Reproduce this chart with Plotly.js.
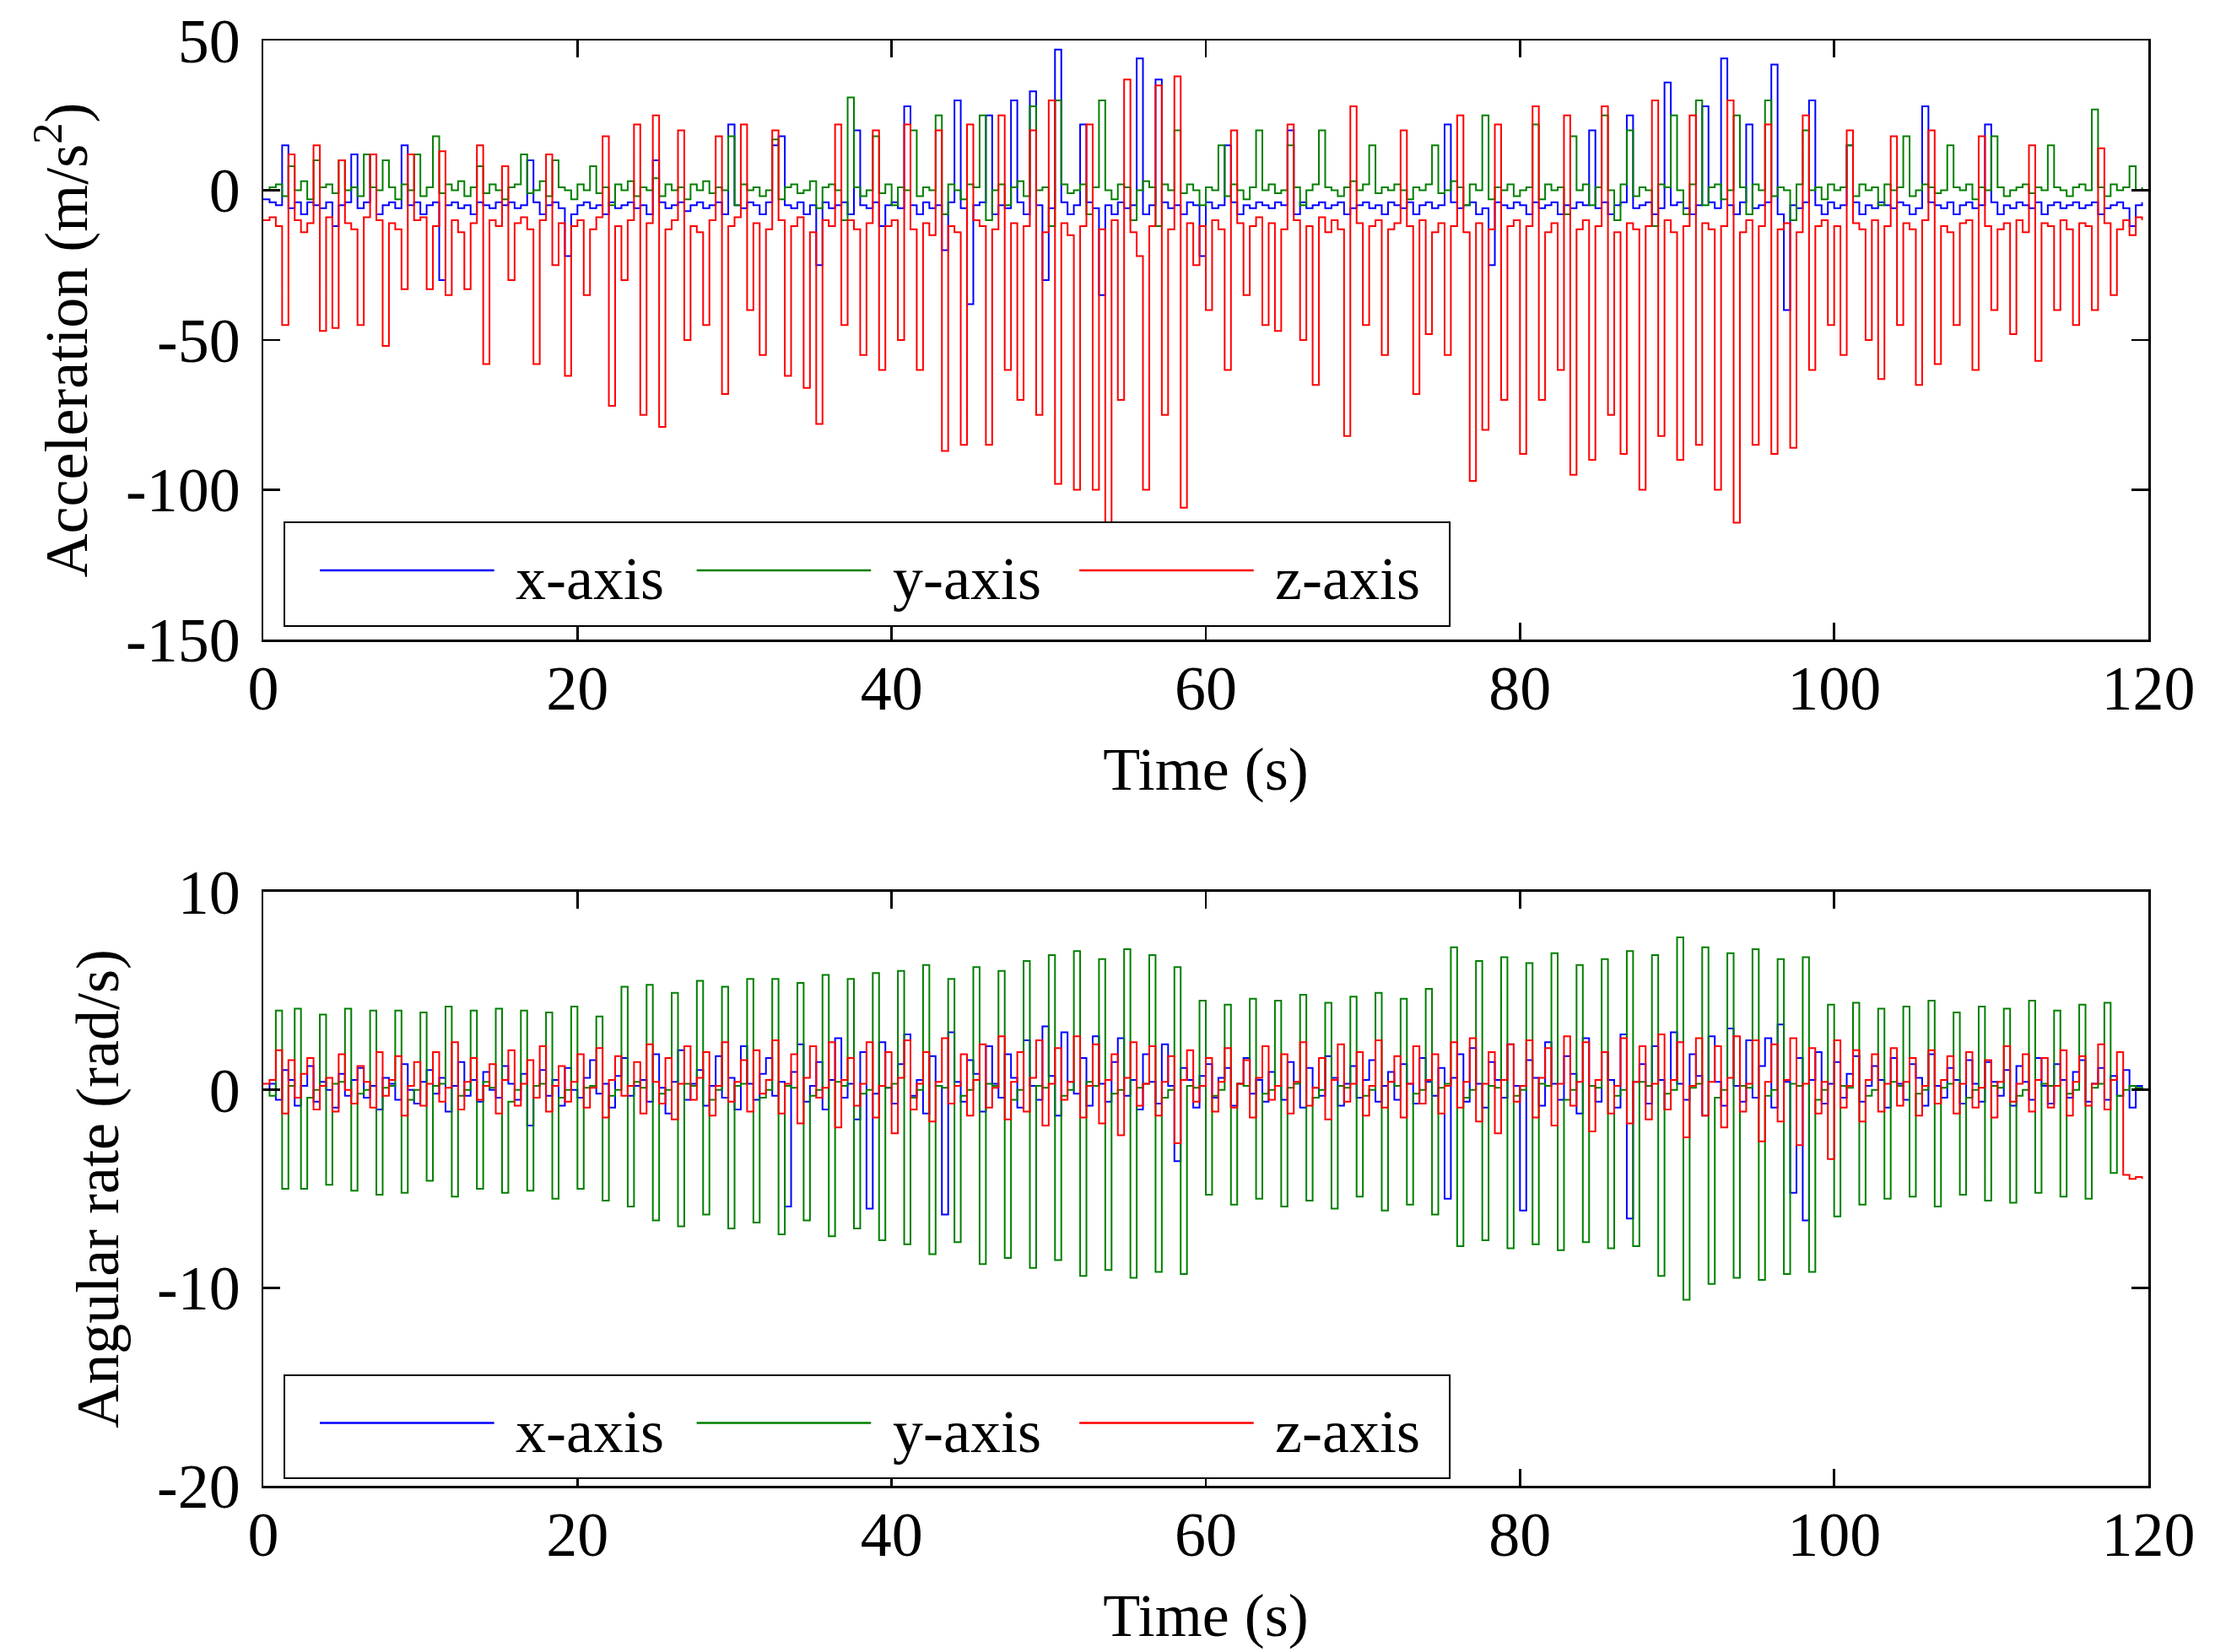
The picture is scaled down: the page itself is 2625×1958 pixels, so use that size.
<!DOCTYPE html>
<html>
<head>
<meta charset="utf-8">
<script src="https://cdn.plot.ly/plotly-3.0.1.min.js"></script>
<style>
  html, body { margin: 0; padding: 0; background: #fff; }
  #chartDiv { width: 2625px; height: 1958px; }
</style>
</head>
<body>
<div id="chartDiv"></div>
<script>
  // time base shared by all six signals (s)
  const time = [
    0,0.4,0.8,1.2,1.6,2,2.4,2.8,3.2,3.6,
    4,4.4,4.8,5.2,5.6,6,6.4,6.8,7.2,7.6,
    8,8.4,8.8,9.2,9.6,10,10.4,10.8,11.2,11.6,
    12,12.4,12.8,13.2,13.6,14,14.4,14.8,15.2,15.6,
    16,16.4,16.8,17.2,17.6,18,18.4,18.8,19.2,19.6,
    20,20.4,20.8,21.2,21.6,22,22.4,22.8,23.2,23.6,
    24,24.4,24.8,25.2,25.6,26,26.4,26.8,27.2,27.6,
    28,28.4,28.8,29.2,29.6,30,30.4,30.8,31.2,31.6,
    32,32.4,32.8,33.2,33.6,34,34.4,34.8,35.2,35.6,
    36,36.4,36.8,37.2,37.6,38,38.4,38.8,39.2,39.6,
    40,40.4,40.8,41.2,41.6,42,42.4,42.8,43.2,43.6,
    44,44.4,44.8,45.2,45.6,46,46.4,46.8,47.2,47.6,
    48,48.4,48.8,49.2,49.6,50,50.4,50.8,51.2,51.6,
    52,52.4,52.8,53.2,53.6,54,54.4,54.8,55.2,55.6,
    56,56.4,56.8,57.2,57.6,58,58.4,58.8,59.2,59.6,
    60,60.4,60.8,61.2,61.6,62,62.4,62.8,63.2,63.6,
    64,64.4,64.8,65.2,65.6,66,66.4,66.8,67.2,67.6,
    68,68.4,68.8,69.2,69.6,70,70.4,70.8,71.2,71.6,
    72,72.4,72.8,73.2,73.6,74,74.4,74.8,75.2,75.6,
    76,76.4,76.8,77.2,77.6,78,78.4,78.8,79.2,79.6,
    80,80.4,80.8,81.2,81.6,82,82.4,82.8,83.2,83.6,
    84,84.4,84.8,85.2,85.6,86,86.4,86.8,87.2,87.6,
    88,88.4,88.8,89.2,89.6,90,90.4,90.8,91.2,91.6,
    92,92.4,92.8,93.2,93.6,94,94.4,94.8,95.2,95.6,
    96,96.4,96.8,97.2,97.6,98,98.4,98.8,99.2,99.6,
    100,100.4,100.8,101.2,101.6,102,102.4,102.8,103.2,103.6,
    104,104.4,104.8,105.2,105.6,106,106.4,106.8,107.2,107.6,
    108,108.4,108.8,109.2,109.6,110,110.4,110.8,111.2,111.6,
    112,112.4,112.8,113.2,113.6,114,114.4,114.8,115.2,115.6,
    116,116.4,116.8,117.2,117.6,118,118.4,118.8,119.2,119.6
  ];

  // acceleration (m/s^2)
  const accX = [
    -3,-4,-5,15,-6,-4,-8,-4,-5,-6,
    -4,-12,-5,-4,12,-6,-4,12,-8,-5,
    -4,-6,15,-5,-4,-8,-5,-4,-30,-5,
    -4,-6,-5,-8,-4,-5,-6,-4,-5,-4,
    -6,-5,10,-4,-8,-5,-4,-6,-22,-8,
    -5,-4,-6,-5,-8,-4,-6,-5,-4,-6,
    -5,-8,10,-4,-6,-5,-4,-7,-5,-4,
    -6,-5,-4,-8,22,-5,-6,-4,-5,-8,
    -4,15,18,-5,-6,-4,-8,-5,-25,-4,
    -6,-5,-4,-8,20,-5,-6,-4,-12,-5,
    -4,-6,28,-5,-8,-4,-6,-5,-20,-4,
    30,-6,-38,-5,-4,25,-8,-5,-6,30,
    -4,-8,33,-5,-30,-6,47,-4,-8,-5,
    22,-4,-6,-35,-5,-8,-4,-6,-5,44,
    -8,-5,37,-4,-6,-5,-8,-4,-5,-22,
    -4,-6,-5,15,-4,-8,-5,-6,-4,-5,
    -6,-4,-5,20,-8,-4,-6,-5,-4,-6,
    -5,-4,-8,-6,-5,-4,-6,-5,-8,-4,
    -5,-6,-4,-8,-5,-4,-6,-5,22,-4,
    -6,-5,-4,-8,-6,-25,-4,-5,-6,-4,
    -5,-8,-4,-6,-5,-4,-8,-5,-6,-4,
    -5,20,-6,-4,-8,-5,-4,25,-6,-5,
    -4,-8,-6,36,-5,-4,-6,-8,-5,28,
    -4,-6,44,-5,-8,-4,22,-6,-5,-4,
    42,-8,-40,-5,-6,-4,30,-5,-8,-4,
    -6,-5,15,-4,-8,-5,-6,-4,-5,-6,
    -4,-5,-8,-6,28,-4,-5,-6,-4,-8,
    -5,-4,-6,-5,22,-4,-8,-5,-6,-4,
    -5,-6,-4,-8,-5,-4,-6,-5,-4,-6,
    -5,-4,-8,-6,-5,-4,-6,-12,-5,-4
  ];
  const accY = [
    0,1,2,-2,8,0,3,-3,10,1,
    2,-1,10,0,1,-2,12,1,0,10,
    1,-3,2,0,12,-2,1,18,-1,2,
    0,3,-2,1,8,-1,2,0,-3,1,
    2,12,-1,0,3,-2,10,1,0,-3,
    2,0,8,-1,1,-5,2,0,3,-2,
    1,0,4,-2,2,0,1,-3,2,0,
    3,-1,1,0,18,-5,2,0,1,-2,
    0,17,-3,1,2,-1,0,3,-6,1,
    2,0,-10,31,1,-2,0,18,-1,2,
    -5,1,0,20,-2,1,0,25,-8,2,
    0,-3,2,1,25,-10,0,2,-5,1,
    3,-2,28,0,1,-12,30,2,-1,0,
    2,-8,1,30,0,-3,2,1,-10,0,
    3,1,-12,2,0,20,-1,2,0,-5,
    1,0,15,-2,2,0,-3,1,20,0,
    2,-1,0,15,1,-5,0,2,20,1,
    0,-2,1,3,0,2,15,-1,1,0,
    2,0,-3,1,0,2,15,-1,0,3,
    1,-5,2,0,25,-3,1,0,2,-2,
    0,1,22,-3,2,0,1,-8,18,0,
    2,-5,1,25,0,-10,2,20,-2,1,
    0,-12,2,1,25,0,-8,2,30,-5,
    1,2,-3,0,25,1,-8,2,0,30,
    -2,1,0,-10,2,20,0,1,-3,2,
    0,1,15,-2,2,0,1,-5,2,0,
    1,18,-2,0,2,1,-1,0,15,1,
    0,2,-3,1,0,18,1,-2,0,1,
    2,-1,1,0,15,1,0,-2,1,2,
    0,27,1,-2,2,0,1,8,0,1
  ];
  const accZ = [
    -10,-9,-12,-45,12,-10,-14,-11,15,-47,
    -9,-46,10,-11,-13,-45,-9,12,-10,-52,
    -11,-13,-33,12,-10,-9,-33,-12,13,-35,
    -10,-14,-33,-11,15,-58,-10,-12,8,-30,
    -11,-9,-13,-58,-10,12,-25,-11,-62,-12,
    -10,-35,-13,-9,18,-72,-12,-30,-10,22,
    -75,-11,25,-79,-13,-10,20,-50,-12,-14,
    -45,-10,18,-68,-12,-9,22,-40,-11,-55,
    -13,20,-10,-62,-12,-9,-66,-14,-78,-10,
    -12,22,-45,-10,-13,-55,-11,20,-60,-12,
    -10,-50,22,-13,-60,-11,-15,20,-87,-12,
    -14,-85,22,-10,-12,-85,-13,25,-60,-11,
    -70,-12,20,-75,-14,30,-98,-11,-15,-100,
    -12,22,-100,-13,-112,-10,-70,37,-14,-22,
    -100,-12,35,-75,-13,38,-106,-11,-25,-12,
    -40,-10,-13,-60,20,-11,-35,-12,-9,-45,
    -11,-47,-13,22,-10,-50,-12,-65,-9,-14,
    -10,-13,-82,28,-11,-45,-12,-10,-55,-13,
    -11,20,-12,-68,-10,-48,-14,-11,-55,-12,
    25,-14,-97,-11,-80,-13,22,-70,-12,-10,
    -88,-12,28,-70,-14,-11,-60,25,-95,-13,
    -10,-90,-12,28,-75,-14,-88,-11,-13,-100,
    -12,30,-82,-10,-14,-90,-12,25,-85,-11,
    -13,-100,-12,30,-111,-14,-10,-85,-12,22,
    -88,-13,-11,-86,-14,25,-60,-12,-10,-45,
    -12,-55,20,-11,-13,-50,-10,-63,-12,18,
    -45,-11,-13,-65,-10,20,-58,-12,-14,-45,
    -11,-10,-60,18,-12,-40,-13,-11,-48,-10,
    -14,15,-57,-11,-12,-40,-10,-13,-45,-11,
    -12,-40,14,-11,-35,-13,-10,-15,-9,-10
  ];

  // angular rate (rad/s)
  const gyroX = [
    0,0.3,-0.5,1,0.5,-0.8,0.2,1.2,-0.6,0.4, 0,-0.9,0.8,-0.3,0.5,1.1,-0.4,0.2,-1,0.6,
    0.3,-0.5,1.3,0,-0.7,0.4,1,-0.2,0.6,-1.1, 0.2,1.4,-0.3,0.5,-0.6,0.9,0,-0.4,1.2,0.3,
    -0.5,0.8,-1.8,0.2,1,-0.3,0.5,-0.8,1.1,0, -0.4,0.6,1.5,-0.2,0.3,-0.9,0.7,1.6,-0.3,0.2,
    0.5,-0.6,1.8,0.1,-1.2,0.4,2,-0.5,0.3,1, -0.8,0.2,1.7,-0.4,0.6,-1,2.2,0.3,-0.5,0.8,
    1.6,-0.3,0.4,-5.9,0.9,2.3,-0.6,0.2,1.4,-1, 0.5,2.6,-0.4,0.3,-1.5,1.9,-6,-0.2,2.4,0.1,
    -0.7,1.3,2.8,-0.3,0.5,-1.2,1.7,0.2,-6.3,2.9, 0.4,-0.6,1.5,0.8,-1.1,2.2,0.3,-0.4,1.8,0.6,
    -0.9,2.5,0.2,-0.5,3.2,0.7,-1.3,2.9,0.4,-0.2, 1.6,-0.8,2.7,0.3,-0.6,1.4,2.6,-0.3,0.5,-1,
    1.8,0.4,-0.7,2.3,0.2,-3.6,1.1,0.5,-0.9,0.7, 1.3,-0.4,0.6,1.1,-0.8,0.3,1.6,-0.2,0.5,-0.6,
    0.9,0.2,-0.5,1.4,0.4,-0.9,1.1,0.1,-0.3,1.7, 0.6,-0.8,0.3,1.2,-0.4,0.5,1.5,-0.6,0.2,0.9,
    -0.5,1.3,0.3,-0.7,1.6,0.4,-0.3,1.1,-5.5,0.6, 1.8,-0.6,2.1,0.3,-0.9,1.4,0.5,-0.4,2.3,0.2,
    -6.1,1.5,0.6,-0.8,2.4,0.3,-0.5,1.7,0.8,-1.2, 2.6,0.2,-0.6,1.9,0.5,-0.9,2.8,-6.5,0.4,1.3,
    -0.7,2.2,0.5,-1,2.9,0.3,-0.5,1.8,0.7,-1.3, 2.7,0.4,-0.8,3.1,0.2,-0.6,2.5,-0.4,1.2,2.6,
    -0.9,3.3,0.4,-5.2,1.6,-6.6,0.5,1.9,-0.7,0.3, 1.4,-0.4,0.8,1.7,-0.6,0.2,1.2,0.5,-0.9,1.6,
    0.3,-0.5,1.3,0.6,-0.8,1.8,0.2,-0.4,1.1,0.5, -0.7,1.5,0.3,-0.6,1.4,0.4,-0.3,1,-0.8,1.2,
    0.4,-0.5,1.6,0.2,-0.7,1.3,0.5,-0.4,0.9,1.5, -0.6,0.3,1.1,-0.5,0.7,-0.3,1,-0.9,0.2,0
  ];
  const gyroY = [
    0,-0.3,4,-5, 0.2,4.1,-5,-0.4, 0,3.8,-4.8,0.3, 0.4,4.1,-5.1,-0.2, 0,4,-5.3,0.1,
    0.2,4,-5.2,-0.5, 0,3.9,-4.6,0.2, 0.3,4.2,-5.4,-0.3, 0,4,-5,0.4, 0.1,4.1,-5.2,-0.6,
    0,4,-5.1,0.2, 0.3,3.9,-5.5,-0.4, 0,4.2,-5,0.1, 0.2,3.7,-5.6,-0.3, 0,5.2,-5.9,0.4,
    0.1,5.3,-6.6,-0.2, 0,4.9,-6.9,0.3, 0.2,5.5,-6.3,-0.5, 0,5.2,-7,0.2, 0.3,5.6,-6.7,-0.4,
    0,5.6,-7.3,0.2, 0.1,5.4,-6.6,-0.3, 0,5.8,-7.4,0.4, 0.2,5.6,-7,-0.2, 0,5.9,-7.6,0.1,
    0.3,6,-7.8,-0.4, 0,6.3,-8.3,0.2, 0.1,5.6,-7.7,-0.3, 0,6.2,-8.8,0.3, 0.2,6,-8.5,-0.5,
    0,6.5,-9,0.2, 0.1,6.8,-8.6,-0.3, 0,7,-9.4,0.4, 0.2,6.6,-9.1,-0.2, 0,7.1,-9.5,0.1,
    0.3,6.8,-9.2,-0.4, 0,6.2,-9.3,0.2, 0.1,4.5,-5.3,-0.3, 0,4.3,-5.8,0.3, 0.2,4.6,-5.5,-0.2,
    0,4.5,-5.9,0.1, 0.3,4.8,-5.6,-0.4, 0,4.4,-6,0.2, 0.1,4.7,-5.4,-0.3, 0,4.9,-6.1,0.4,
    0.2,4.6,-5.8,-0.2, 0,5.1,-6.3,0.1, 0.3,7.2,-7.9,-0.4, 0,6.5,-7.6,0.2, 0.1,6.7,-8,-0.3,
    0,6.4,-7.8,0.3, 0.2,6.9,-8.1,-0.5, 0,6.3,-7.7,0.2, 0.1,6.6,-8,-0.3, 0,7,-7.9,0.4,
    0.2,6.8,-9.4,-0.2, 0,7.7,-10.6,0.1, 0.3,7.2,-9.8,-0.4, 0,6.9,-9.5,0.2, 0.1,7.1,-9.6,-0.3,
    0,6.6,-9.3,0.3, 0.2,6.7,-9.2,-0.5, 0,4.3,-6.4,0.2, 0.1,4.4,-5.8,-0.3, 0,4.1,-5.5,0.4,
    0.2,4.2,-5.4,-0.2, 0,4.5,-5.9,0.1, 0.3,3.9,-5.3,-0.4, 0,4.2,-5.6,0.2, 0.1,4.1,-5.7,-0.3,
    0,4.5,-5.2,0.3, 0.2,4,-5.4,-0.2, 0,4.3,-5.5,0.1, 0.3,4.4,-4.2,-0.3, 0,0.2,0.1,0
  ];
  const gyroZ = [
    0.3,0.5,2,-1.2,1.5,-0.4,0.8,1.6,-1,0.2, 0.6,-1.1,1.8,0,-0.7,1.2,0.4,-0.9,1.9,-0.3,
    0.5,1.7,-1.3,0.2,1.4,-0.8,0.3,1.9,-0.6,0.1, 2.4,-1,0.4,1.6,-0.5,0.2,1.3,-1.2,0.5,2,
    -0.8,0.3,1.5,-0.4,2.2,-1.1,0.2,1.2,-0.6,0.4, 1.8,-0.9,0.1,2.1,-1.4,0.5,1.7,-0.3,0.2,1.4,
    -1.2,2.3,0.4,-0.7,1.6,-1.5,0.3,2.2,-0.5,0.6, 1.9,-1.3,0.2,2.4,-0.6,0.4,1.5,-1.1,2,-0.2,
    0.5,2.5,-1.2,0.3,1.8,-1.7,0.6,2.2,-0.4,0.1, 2.4,-1.9,0.5,1.6,-0.8,0.3,2.4,-1.4,0.2,1.9,
    -2.2,0.6,2.5,-1,0.3,1.9,-1.6,0.4,2.6,-0.7, 0.2,1.8,-1.3,0.5,2.3,-0.9,0.1,2.7,-1.5,0.4,
    1.9,-1.1,0.6,2.5,-1.8,0.3,2.1,-0.5,0.4,2.7, -1.4,0.2,2.3,-1.7,0.5,1.8,-2.3,0.6,2.4,-0.8,
    0.3,2.2,-1.3,0.4,1.7,-2.7,0.5,2,-0.6,0.2, 1.6,-1.1,0.4,2.1,-0.9,0.3,1.5,-1.4,0.6,2.2,
    -0.5,0.2,1.8,-1.2,0.4,2.4,-0.8,0.1,1.6,-1.5, 0.5,2.3,-0.6,0.3,1.9,-1.3,0.2,2.5,-0.9,0.4,
    1.7,-1.4,0.3,2.2,-0.7,0.5,1.8,-1.2,0.2,2.4, -0.9,0.4,2.6,-1.6,0.3,1.9,-2.2,0.5,2.3,-0.6,
    0.2,2.5,-1.4,0.6,2.1,-1.8,0.3,2.7,-0.8,0.4, 2.4,-2.1,0.5,1.9,-1.2,0.2,2.6,-1.7,0.4,2.2,
    -1.5,0.3,2.8,-1,0.5,2.4,-2.4,0.2,2.6,-1.3, 0.4,2.2,-1.9,0.6,2.7,-1.1,0.3,2.5,-2.6,0.4,
    2.3,-1.6,0.5,2.6,-2.8,0.3,2.1,-1.2,0.4,-3.5, 2.5,-0.9,0.2,2,-1.6,0.5,1.8,-1.1,0.3,2.1,
    -0.8,0.4,1.6,-1.3,0.2,2,-0.7,0.5,1.7,-1.2, 0.3,1.9,-0.9,0.1,1.5,-1.4,0.4,2.2,-0.6,0.3,
    1.8,-1.1,0.5,1.6,-0.9,0.2,2,-1.3,0.4,1.7, -0.8,0.3,2.3,-1,0.5,1.9,-4.3,-4.5,-4.4,-4.5
  ];

  const seriesNames = ['x-axis', 'y-axis', 'z-axis'];
  const seriesColors = ['#0000ff', '#008000', '#ff0000'];

  const timeTicks = [0, 20, 40, 60, 80, 100, 120];
  const accTicks = [-150, -100, -50, 0, 50];
  const accTickText = ['-150', '-100', '-50', '0', '50'];
  const gyroTicks = [-20, -10, 0, 10];
  const gyroTickText = ['-20', '-10', '0', '10'];

  const fontFamily = '"Liberation Serif", "Times New Roman", serif';


  function makeTraces(series, xa, ya) {
    var traces = [];
    for (let i = 0; i < series.length; i++) {
      traces.push({
        x: time,
        y: series[i],
        xaxis: xa,
        yaxis: ya,
        type: 'scatter',
        mode: 'lines',
        name: seriesNames[i],
        showlegend: false,
        // sample-and-hold look: each reading drawn as vertical jumps
        line: {color: seriesColors[i], width: 2, shape: 'hv'},
      });
    }
    return traces;
  }

  function xAxisStyle(anchor) {
    return {
      anchor: anchor,
      domain: [0, 1],
      range: [0, 120],
      tickvals: timeTicks,
      ticktext: timeTicks.map(String),
      ticks: 'inside',
      ticklen: 20,
      tickwidth: 2.5,
      tickcolor: 'black',
      ticklabelstandoff: -8,
      showline: true,
      mirror: 'ticks',
      linecolor: 'black',
      linewidth: 2.5,
      showgrid: false,
      zeroline: false,
      tickfont: {family: fontFamily, size: 74, color: 'black'},
      title: {text: 'Time (s)', standoff: 30, font: {family: fontFamily, size: 72, color: 'black'}},
    };
  }

  function yAxisStyle(anchor, domain, range, vals, text, label) {
    return {
      anchor: anchor,
      domain: domain,
      range: range,
      tickvals: vals,
      ticktext: text,
      ticks: 'inside',
      ticklen: 20,
      tickwidth: 2.5,
      tickcolor: 'black',
      ticklabelstandoff: 10,
      showline: true,
      mirror: 'ticks',
      linecolor: 'black',
      linewidth: 2.5,
      showgrid: false,
      zeroline: false,
      tickfont: {family: fontFamily, size: 74, color: 'black'},
      title: {text: label, standoff: 22, font: {family: fontFamily, size: 72, color: 'black'}},
    };
  }

  // MATLAB style legend box: long sample lines, drawn in the subplot's own frame
  function legendBox(xref, yref, yBase, shapes, annotations) {
    const lineStart = [0.030, 0.2299, 0.4329];
    shapes.push({
      type: 'rect', xref: xref, yref: yref, layer: 'above',
      x0: 0.0112, x1: 0.6294, y0: yBase, y1: yBase + 0.1733,
      line: {color: 'black', width: 2}, fillcolor: 'white',
    });
    for (let i = 0; i < seriesNames.length; i++) {
      shapes.push({
        type: 'line', xref: xref, yref: yref, layer: 'above',
        x0: lineStart[i], x1: lineStart[i] + 0.0925, y0: yBase + 0.093, y1: yBase + 0.093,
        line: {color: seriesColors[i], width: 2.5},
      });
      annotations.push({
        xref: xref, yref: yref, x: lineStart[i] + 0.103, y: yBase + 0.0785,
        xanchor: 'left', yanchor: 'middle', showarrow: false,
        text: seriesNames[i],
        font: {family: fontFamily, size: 72, color: 'black'},
      });
    }
  }

  var data = makeTraces([accX, accY, accZ], 'x', 'y')
    .concat(makeTraces([gyroX, gyroY, gyroZ], 'x2', 'y2'));

  var shapes = [];
  var annotations = [];
  legendBox('x domain', 'y domain', 0.0225, shapes, annotations);
  legendBox('x2 domain', 'y2 domain', 0.0128, shapes, annotations);

  var layout = {
    width: 2625,
    height: 1958,
    margin: {l: 312, r: 79, t: 48, b: 197},
    paper_bgcolor: 'white',
    plot_bgcolor: 'white',
    font: {family: fontFamily, size: 72, color: 'black'},
    showlegend: false,
    xaxis: xAxisStyle('y'),
    yaxis: yAxisStyle('x', [0.5855, 1], [-150, 50], accTicks, accTickText, 'Acceleration (m/s<sup>2</sup>)'),
    xaxis2: xAxisStyle('y2'),
    yaxis2: yAxisStyle('x2', [0, 0.411], [-20, 10], gyroTicks, gyroTickText, 'Angular rate (rad/s)'),
    shapes: shapes,
    annotations: annotations,
  };

  Plotly.newPlot('chartDiv', data, layout, {staticPlot: true});
</script>
</body>
</html>
